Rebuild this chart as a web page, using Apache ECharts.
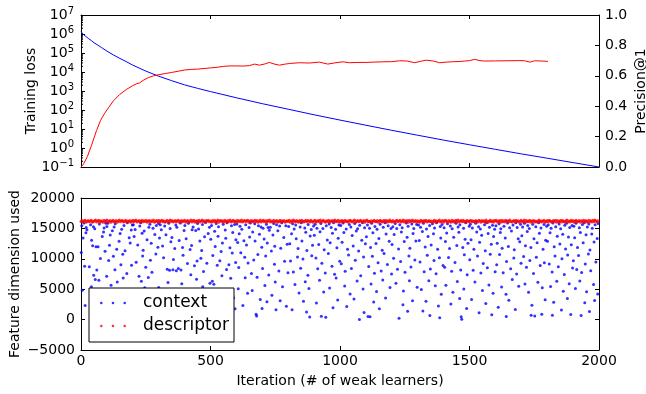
<!DOCTYPE html>
<html>
<head>
<meta charset="utf-8">
<script src="https://cdn.jsdelivr.net/npm/echarts@6/dist/echarts.min.js"></script>
<style>html,body{margin:0;padding:0;background:#fff}#c{width:646px;height:394px}</style>
</head>
<body>
<div id="c"></div>
<script>
// ---------- data ----------
const xTicks = [0, 500, 1000, 1500, 2000];
const lossExponents = [-1, 0, 1, 2, 3, 4, 5, 6, 7];
const precisionTicks = [0, 0.2, 0.4, 0.6, 0.8, 1.0];
const featureTicks = [-5000, 0, 5000, 10000, 15000, 20000];

const lossIters = [0, 5, 10, 20, 30, 40, 50, 65, 80, 100, 125, 150, 175, 200, 250, 300, 350, 400, 450, 500, 600, 700, 800, 900, 1000, 1100, 1200, 1300, 1400, 1500, 1600, 1700, 1800, 1900, 2000];
const lossValues = [1.32e6, 1.1e6, 9.3e5, 7.2e5, 5.6e5, 4.5e5, 3.5e5, 2.6e5, 1.9e5, 1.26e5, 7.9e4, 5.2e4, 3.5e4, 2.3e4, 1.12e4, 6.0e3, 3.5e3, 2.1e3, 1.38e3, 930, 440, 215, 110, 56, 29.5, 15.8, 8.5, 4.7, 2.6, 1.48, 0.85, 0.49, 0.29, 0.17, 0.1];

const precIters = [0, 10, 25, 40, 50, 60, 75, 90, 100, 125, 150, 175, 200, 215, 225, 240, 260, 280, 300, 325, 350, 375, 400, 425, 450, 475, 500, 525, 550, 575, 600, 625, 650, 670, 689, 710, 727, 745, 766, 785, 805, 843, 882, 920, 953, 980, 1011, 1036, 1070, 1101, 1130, 1165, 1200, 1230, 1260, 1288, 1310, 1333, 1360, 1385, 1410, 1430, 1460, 1482, 1500, 1520, 1540, 1559, 1600, 1649, 1690, 1713, 1733, 1752, 1780, 1803];
const precValues = [0.0, 0.02, 0.07, 0.14, 0.19, 0.24, 0.305, 0.35, 0.375, 0.435, 0.478, 0.51, 0.535, 0.548, 0.552, 0.57, 0.588, 0.6, 0.607, 0.615, 0.622, 0.63, 0.638, 0.642, 0.644, 0.648, 0.652, 0.656, 0.662, 0.665, 0.665, 0.664, 0.667, 0.677, 0.670, 0.678, 0.688, 0.678, 0.670, 0.676, 0.681, 0.686, 0.684, 0.690, 0.677, 0.685, 0.692, 0.686, 0.688, 0.688, 0.690, 0.692, 0.693, 0.699, 0.697, 0.686, 0.695, 0.703, 0.697, 0.686, 0.690, 0.692, 0.694, 0.697, 0.700, 0.708, 0.700, 0.697, 0.698, 0.699, 0.700, 0.699, 0.690, 0.699, 0.697, 0.695];

// [iteration, feature dimension] of context features picked (estimated from the figure)
const contextPoints = [
[3,15420],[11,15880],[20,15130],[23,14760],[37,15610],[48,15290],[53,14940],[71,15710],[89,15050],[96,15830],
[8,13420],[19,14270],[41,13060],[45,12150],[58,11970],[82,13680],[87,14400],[93,11240],
[1,11035],[14,8790],[32,8680],[49,7310],[61,8140],[75,10050],[99,7150],[66,11970],
[5,4830],[55,6600],[69,6490],[40,5410],[16,2300],[62,1400],[81,3100],
[100,15330],[104,15860],[121,14610],[128,15210],[132,15770],[157,14880],[166,15490],[179,15940],[194,14720],[198,15560],
[110,12240],[113,13900],[138,11560],[147,12870],[151,14180],[170,11320],[186,13470],[190,12600],
[107,9700],[125,10400],[131,8210],[154,9020],[161,10760],[177,7570],[195,8930],
[116,5670],[140,6180],[163,6830],[188,4300],[122,2100],[158,900],[173,3300],
[202,15620],[209,14830],[227,15390],[231,15940],[244,14590],[262,15180],[266,15700],[278,15030],[291,15470],[299,15800],
[205,13660],[219,12280],[236,14190],[240,11410],[255,13130],[271,12570],[285,14010],[297,11880],
[213,9420],[224,7120],[238,10470],[250,8610],[268,9770],[274,7790],[289,10810],
[233,6320],[246,5230],[260,6940],[282,4800],[216,1800],[253,2900],[294,600],
[306,15610],[310,14790],[323,15380],[339,15850],[344,14980],[366,15540],[370,15200],[384,15880],[398,14660],
[303,13410],[315,12090],[328,13940],[347,12820],[351,13490],[362,11700],[379,13020],[392,11860],
[300,5300],[319,10190],[333,8290],[342,8110],[355,8200],[368,8020],[376,8410],[394,10580],[357,9880],[386,8150],
[336,6120],[360,4700],[389,5900],[312,2600],[349,1200],[381,3400],
[401,15470],[415,15830],[429,14790],[433,15230],[450,15810],[454,14900],[469,15640],[481,15970],[496,15170],
[406,13300],[421,11510],[427,12170],[443,14670],[459,12940],[466,11380],[477,13610],[491,14180],
[411,9210],[424,7380],[438,8840],[448,9620],[463,10080],[473,7910],[486,9270],
[446,6620],[470,5400],[498,5990],[413,4100],[419,2000],[457,800],[483,3200],
[504,15490],[516,14530],[522,15810],[531,15260],[549,15700],[557,14730],[564,15910],[581,15420],[593,15660],
[501,13220],[518,12040],[529,13700],[541,11190],[546,12610],[559,13390],[575,11830],[586,14320],[598,13120],
[509,10560],[526,8920],[536,9670],[544,7230],[562,8230],[571,9040],[584,10940],[597,9380],
[507,6320],[513,5820],[553,4600],[578,6790],[589,3590],[538,2500],[567,1500],[595,1790],
[602,15720],[614,15340],[621,14840],[636,15590],[649,15130],[654,15870],[671,15780],[685,15420],[695,15230],
[605,12690],[611,14110],[629,12980],[639,12290],[651,13590],[663,14410],[672,12930],[689,14020],[698,11880],
[609,8570],[617,11010],[632,10240],[645,9310],[658,7580],[667,9820],[683,10690],
[607,5090],[634,6870],[661,4790],[680,6980],[643,4330],[625,2300],[676,900],[678,590],[692,3310],[699,1810],
[703,15020],[716,15680],[722,15140],[731,15180],[744,15790],[755,15600],[767,15380],[775,15930],[791,15450],
[707,13260],[719,12590],[727,14690],[741,13920],[748,12080],[760,14630],[771,11740],[783,13490],[796,12410],
[701,8390],[713,10480],[725,7330],[735,11280],[747,9110],[764,8010],[786,9580],[799,7720],
[710,5610],[750,6190],[778,5390],[737,4010],[718,2920],[753,1620],[769,3110],[793,2210],
[802,15310],[817,15760],[823,14890],[829,15540],[846,15210],[851,15920],[864,15080],[877,15650],[889,14820],[898,15390],
[806,12460],[813,14120],[831,13280],[838,11690],[853,12910],[868,14350],[872,11370],[885,13760],[894,12240],
[809,9640],[820,7820],[836,10310],[848,8460],[857,9980],[876,7290],[891,10520],
[826,5760],[842,4390],[866,6240],[880,5110],[815,1610],[859,3020],[871,1240],[883,420],
[904,15670],[911,15040],[926,15820],[934,14970],[947,15450],[958,15730],[966,15150],[975,15910],[983,14880],[996,15560],
[901,13870],[918,12360],[923,14460],[939,11480],[951,13110],[962,12650],[971,14200],[988,11830],[993,13390],
[907,10140],[914,8350],[930,9270],[943,7680],[955,10870],[969,8790],[979,7460],[999,9590],
[921,6470],[937,4560],[960,5180],[985,6830],[909,2740],[928,560],[945,380],[973,1930],[991,3240],
[1003,15480],[1012,15870],[1024,14910],[1036,15630],[1042,15250],[1057,15790],[1068,14960],[1076,15520],[1087,15930],[1095,15110],
[1008,12710],[1015,14330],[1029,11560],[1047,13820],[1051,12090],[1063,14580],[1072,11270],[1084,13040],[1098,12480],
[1005,9180],[1020,7940],[1033,10620],[1044,8420],[1059,9760],[1080,7210],[1091,10300],
[1018,5540],[1039,4210],[1066,6360],[1089,5020],[1026,2170],[1054,3380],[1075,20],[1093,1160],
[1106,15570],[1114,15040],[1122,15860],[1135,15310],[1143,14850],[1155,15690],[1167,15180],[1174,15940],[1186,15420],[1197,14980],
[1102,13640],[1118,11840],[1127,14270],[1139,12520],[1150,13350],[1163,11410],[1178,14090],[1190,12880],
[1111,8740],[1125,10410],[1133,7630],[1147,9330],[1159,8010],[1170,10880],[1183,9070],[1199,7480],
[1120,5870],[1141,4640],[1165,6520],[1193,5290],[1108,500],[1116,460],[1130,2890],[1152,1770],[1176,3560],
[1204,15290],[1213,15810],[1219,14970],[1231,15600],[1240,15120],[1256,15880],[1263,15370],[1277,15730],[1285,15000],[1296,15640],
[1201,12370],[1209,13980],[1226,11620],[1237,14410],[1248,12830],[1259,13560],[1270,11750],[1282,14180],[1293,12940],
[1207,10090],[1222,8280],[1234,9550],[1251,7790],[1266,10480],[1274,8640],[1289,9810],
[1216,5980],[1245,4720],[1268,6410],[1298,5330],[1228,210],[1243,2460],[1261,1370],[1280,3110],
[1303,15560],[1311,15170],[1322,15830],[1334,14920],[1346,15490],[1357,15770],[1365,15050],[1373,15910],[1387,15330],[1394,15640],
[1306,13020],[1318,14490],[1329,11930],[1340,13670],[1352,12260],[1361,14110],[1377,11560],[1389,13440],
[1309,9470],[1325,7860],[1337,10570],[1349,8320],[1363,9740],[1371,7550],[1384,10190],[1398,8890],
[1314,4940],[1343,6380],[1368,5560],[1391,4170],[1320,1420],[1332,3010],[1347,690],[1380,2230],[1385,290],
[1402,15120],[1415,15780],[1426,15390],[1433,14940],[1448,15850],[1456,15230],[1463,15590],[1477,15010],[1486,15940],[1499,15360],
[1407,12840],[1412,14260],[1423,11680],[1439,13530],[1451,12190],[1459,14380],[1474,11840],[1483,13220],[1494,12560],
[1404,8610],[1419,10230],[1431,7940],[1444,9380],[1466,8150],[1480,10660],[1491,7370],
[1409,5660],[1436,4490],[1453,6270],[1478,5030],[1428,2560],[1462,3450],[1468,480],[1470,40],[1489,1830],
[1503,15690],[1511,15080],[1524,15830],[1535,15280],[1542,14900],[1558,15610],[1566,15940],[1577,15170],[1589,15520],[1597,14860],
[1506,13140],[1517,11590],[1528,14400],[1539,12730],[1547,13860],[1561,11320],[1572,14150],[1584,12390],[1593,13660],
[1501,9860],[1514,8130],[1531,10470],[1544,7650],[1553,9210],[1569,8540],[1580,10760],[1599,7890],
[1521,6180],[1550,4780],[1575,5690],[1591,4350],[1508,3320],[1537,1110],[1563,2650],[1586,790],
[1602,15450],[1614,15760],[1621,14930],[1633,15370],[1647,15880],[1655,15090],[1668,15540],[1679,15920],[1684,15160],[1697,15680],
[1607,12560],[1619,14320],[1626,11740],[1638,13410],[1650,12020],[1662,14560],[1673,11490],[1688,13290],[1694,12810],
[1605,9030],[1616,10690],[1630,7710],[1643,9560],[1659,8370],[1671,10140],[1682,7520],[1699,9280],
[1624,5360],[1641,4160],[1665,6590],[1690,5480],[1611,2040],[1642,490],[1652,3190],[1677,1660],
[1705,15210],[1712,15840],[1725,15470],[1731,14990],[1744,15700],[1756,15260],[1767,15920],[1776,15080],[1788,15630],[1798,15360],
[1702,13790],[1716,12140],[1723,14480],[1737,11860],[1749,13310],[1761,12660],[1770,14210],[1784,11570],[1794,13040],
[1709,10380],[1720,8610],[1733,9720],[1747,7590],[1758,10260],[1773,8880],[1789,9370],
[1714,5840],[1728,4510],[1764,6160],[1781,5230],[1738,700],[1741,2360],[1752,580],[1779,880],[1792,3280],
[1804,15580],[1815,15020],[1822,15890],[1833,15290],[1846,15710],[1852,14960],[1868,15530],[1875,15860],[1887,15140],[1896,15480],
[1801,12900],[1811,14270],[1827,11980],[1839,13720],[1849,12440],[1860,14040],[1871,11630],[1882,13580],[1893,12330],
[1808,9150],[1819,7830],[1830,10450],[1843,8690],[1857,9990],[1866,7420],[1879,10620],[1898,8480],
[1813,5450],[1837,6290],[1862,4680],[1885,5910],[1820,720],[1825,2870],[1855,1590],[1878,3460],[1891,820],
[1903,15370],[1911,15830],[1924,15120],[1936,15650],[1943,15930],[1955,15240],[1961,15710],[1974,15010],[1985,15580],[1997,15820],
[1906,13480],[1917,11870],[1928,14310],[1939,12620],[1950,13970],[1965,11450],[1972,14090],[1981,12780],[1993,13320],
[1901,9690],[1914,8260],[1921,10540],[1933,7740],[1947,9130],[1959,10810],[1968,8050],[1988,9470],
[1909,5120],[1926,6350],[1952,4570],[1979,5790],[1995,4210],[1931,690],[1945,2790],[1963,1330],[1983,3140]
];

const descriptorStep = 4; // one descriptor sample every 4 iterations
const descriptorDims = [
16120,16310,16050,16240,16360,16010,16180,16290,16090,16220,16340,16030,16150,16270,16380,16070,16200,16320,16040,16260,
16170,16020,16330,16110,16250,16370,16060,16190,16300,16000,16230,16350,16080,16140,16280,16030,16210,16370,16100,16260,
16310,16040,16190,16350,16070,16230,16120,16290,16010,16180,16340,16090,16250,16370,16050,16160,16300,16020,16220,16330,
16080,16270,16140,16360,16000,16200,16310,16060,16240,16130,16380,16030,16170,16290,16100,16350,16050,16210,16320,16090,
16260,16010,16150,16340,16070,16230,16380,16120,16280,16040,16190,16300,16060,16250,16360,16020,16170,16310,16110,16220,
16350,16030,16200,16290,16080,16140,16370,16050,16240,16320,16000,16180,16270,16100,16340,16060,16210,16380,16130,16250,
16040,16300,16160,16360,16090,16220,16010,16280,16150,16330,16070,16190,16370,16020,16240,16310,16110,16260,16050,16350,
16180,16000,16290,16130,16370,16060,16230,16340,16100,16200,16030,16320,16150,16270,16080,16380,16040,16210,16300,16120,
16250,16360,16020,16170,16310,16090,16240,16050,16330,16140,16280,16010,16190,16370,16070,16220,16350,16110,16260,16030,
16300,16160,16380,16040,16230,16100,16340,16060,16200,16290,16020,16150,16360,16080,16250,16120,16310,16000,16180,16270,
16140,16330,16010,16260,16090,16370,16200,16050,16310,16170,16020,16280,16110,16350,16230,16060,16190,16340,16080,16300,
16220,16070,16360,16130,16000,16250,16320,16040,16180,16290,16100,16380,16060,16210,16330,16150,16030,16270,16120,16350,
16010,16190,16300,16080,16240,16370,16110,16160,16340,16020,16260,16050,16310,16200,16090,16360,16140,16230,16000,16280,
16330,16120,16060,16250,16380,16030,16170,16300,16090,16220,16350,16070,16140,16290,16010,16240,16370,16100,16190,16050,
16270,16040,16210,16340,16150,16080,16310,16000,16230,16360,16120,16050,16280,16180,16330,16020,16260,16110,16370,16160,
16060,16300,16130,16020,16250,16350,16090,16200,16320,16040,16170,16380,16070,16240,16110,16290,16010,16340,16150,16220,
16370,16080,16190,16310,16030,16260,16140,16000,16330,16210,16060,16280,16120,16360,16050,16180,16300,16090,16230,16020,
16160,16350,16040,16270,16100,16220,16380,16070,16190,16310,16010,16240,16340,16130,16060,16290,16170,16030,16320,16110,
16240,16010,16320,16150,16370,16050,16200,16280,16090,16360,16130,16020,16250,16310,16080,16190,16350,16040,16270,16140,
16090,16280,16170,16040,16340,16230,16000,16310,16120,16260,16060,16370,16150,16030,16220,16330,16100,16250,16010,16300,
16200,16360,16070,16180,16290,16020,16350,16110,16240,16050,16320,16160,16270,16080,16380,16130,16040,16230,16310,16060,
16320,16130,16250,16000,16210,16340,16080,16170,16370,16030,16280,16100,16190,16350,16020,16260,16140,16300,16070,16230,
16050,16190,16380,16110,16270,16060,16230,16330,16020,16150,16300,16090,16360,16210,16040,16170,16290,16120,16340,16000,
16280,16090,16150,16350,16040,16310,16180,16020,16260,16370,16100,16220,16060,16330,16140,16280,16010,16200,16360,16080,
16170,16310,16030,16240,16120,16360,16070,16290,16190,16000,16340,16150,16250,16050,16320,16110,16380,16210,16060,16270
];

// ---------- build ----------
const FONT = 'DejaVu Sans';
const lossData = lossIters.map((x, i) => [x, Math.log10(lossValues[i])]);
const precData = precIters.map((x, i) => [x, precValues[i]]);
const descriptorData = descriptorDims.map((v, i) => [i * descriptorStep, v]);
const minorTicks = [];
lossExponents.slice(0, -1).forEach(e => { for (let k = 2; k <= 9; k++) minorTicks.push([0, Math.log10(k * Math.pow(10, e))]); });

const black = '#000';
const plainNum = v => (v < 0 ? '\u2212' + (-v) : String(v));
const tickIn = (len) => ({ show: true, inside: true, length: len, lineStyle: { color: black, width: 1 } });
const axisLine = { show: true, onZero: false, lineStyle: { color: black, width: 1 } };
const labelStyle = { color: black, fontFamily: FONT, fontSize: 14 };
const nameStyle = { color: black, fontFamily: FONT, fontSize: 14 };

const xBase = (grid, pos, showLabel, extra) => Object.assign({
  type: 'value', gridIndex: grid, position: pos, min: xTicks[0], max: xTicks[xTicks.length - 1], interval: 500,
  axisLine: axisLine, axisTick: tickIn(4), splitLine: { show: false }, nameMoveOverlap: false,
  axisLabel: Object.assign({ show: showLabel, margin: 4, formatter: plainNum }, labelStyle)
}, extra || {});

const legendIcon = 'path://M0,1.3a1.3,1.3 0 1,0 2.6,0a1.3,1.3 0 1,0 -2.6,0z M11.7,1.3a1.3,1.3 0 1,0 2.6,0a1.3,1.3 0 1,0 -2.6,0z M23.4,1.3a1.3,1.3 0 1,0 2.6,0a1.3,1.3 0 1,0 -2.6,0z';

const chart = echarts.init(document.getElementById('c'), null, { renderer: 'canvas' });
chart.setOption({
  backgroundColor: '#fff',
  animation: false,
  textStyle: { fontFamily: FONT },
  grid: [
    { left: 81, width: 518, top: 15, height: 152, containLabel: false, outerBoundsMode: 'none' },
    { left: 81, width: 518, top: 198, height: 152, containLabel: false, outerBoundsMode: 'none' }
  ],
  xAxis: [
    xBase(0, 'bottom', false),
    xBase(0, 'top', false),
    xBase(1, 'bottom', true, { name: 'Iteration (# of weak learners)', nameLocation: 'middle', nameGap: 24, nameTextStyle: nameStyle }),
    xBase(1, 'top', false)
  ],
  yAxis: [
    {
      type: 'value', gridIndex: 0, position: 'left', min: -1, max: 7, interval: 1,
      axisLine: axisLine, axisTick: tickIn(4), splitLine: { show: false }, nameMoveOverlap: false,
      axisLabel: {
        margin: 7,
        formatter: v => { const e = Math.round(v); return '{b|10}{s|' + (e < 0 ? '\u2212' + (-e) : e) + '}'; },
        rich: { b: { fontFamily: FONT, fontSize: 14, color: black }, s: { fontFamily: FONT, fontSize: 10, color: black, padding: [0, 0, 7, 0] } }
      },
      name: 'Training loss', nameLocation: 'middle', nameRotate: 90, nameGap: 43, nameTextStyle: nameStyle
    },
    {
      type: 'value', gridIndex: 0, position: 'right', min: precisionTicks[0], max: precisionTicks[precisionTicks.length - 1], interval: 0.2,
      axisLine: axisLine, axisTick: tickIn(4), splitLine: { show: false }, nameMoveOverlap: false,
      axisLabel: Object.assign({ margin: 6, formatter: v => v.toFixed(1) }, labelStyle),
      name: 'Precision@1', nameLocation: 'middle', nameRotate: 90, nameGap: 35, nameTextStyle: nameStyle
    },
    {
      type: 'value', gridIndex: 1, position: 'left', min: featureTicks[0], max: featureTicks[featureTicks.length - 1], interval: 5000,
      axisLine: axisLine, axisTick: tickIn(4), splitLine: { show: false }, nameMoveOverlap: false,
      axisLabel: Object.assign({ margin: 6, formatter: plainNum }, labelStyle),
      name: 'Feature dimension used', nameLocation: 'middle', nameRotate: 90, nameGap: 59, nameTextStyle: nameStyle
    },
    {
      type: 'value', gridIndex: 1, position: 'right', min: featureTicks[0], max: featureTicks[featureTicks.length - 1], interval: 5000,
      axisLine: axisLine, axisTick: tickIn(4), splitLine: { show: false }, axisLabel: { show: false }
    }
  ],
  legend: {
    data: [{ name: 'context', icon: legendIcon }, { name: 'descriptor', icon: legendIcon }],
    orient: 'vertical', left: 89, top: 288,
    padding: [5, 5, 6, 11], itemGap: 3, itemWidth: 26, itemHeight: 2.6,
    borderColor: black, borderWidth: 1, backgroundColor: '#fff', borderRadius: 0,
    selectedMode: false,
    textStyle: { fontFamily: FONT, fontSize: 17, color: black, lineHeight: 20, padding: [0, 0, 0, 12] }
  },
  series: [
    {
      name: 'loss', type: 'line', xAxisIndex: 0, yAxisIndex: 0, data: lossData,
      showSymbol: false, lineStyle: { color: '#0000ff', width: 1 }, itemStyle: { color: '#0000ff' }, z: 3
    },
    {
      name: 'precision', type: 'line', xAxisIndex: 0, yAxisIndex: 1, data: precData,
      showSymbol: false, lineStyle: { color: '#ff0000', width: 1 }, itemStyle: { color: '#ff0000' }, z: 4
    },
    {
      name: 'minorTicks', type: 'custom', xAxisIndex: 0, yAxisIndex: 0, data: minorTicks, silent: true, z: 5,
      renderItem: (params, api) => {
        const p = api.coord([api.value(0), api.value(1)]);
        return { type: 'line', shape: { x1: p[0], y1: p[1], x2: p[0] + 2, y2: p[1] }, style: { stroke: black, lineWidth: 1 } };
      }
    },
    {
      name: 'context', type: 'scatter', xAxisIndex: 2, yAxisIndex: 2, data: contextPoints,
      symbol: 'circle', symbolSize: 3, itemStyle: { color: '#0000ff' }, silent: true
    },
    {
      name: 'descriptor', type: 'scatter', xAxisIndex: 2, yAxisIndex: 2, data: descriptorData,
      symbol: 'circle', symbolSize: 3, itemStyle: { color: '#ff0000' }, silent: true
    }
  ]
});
</script>
</body>
</html>
